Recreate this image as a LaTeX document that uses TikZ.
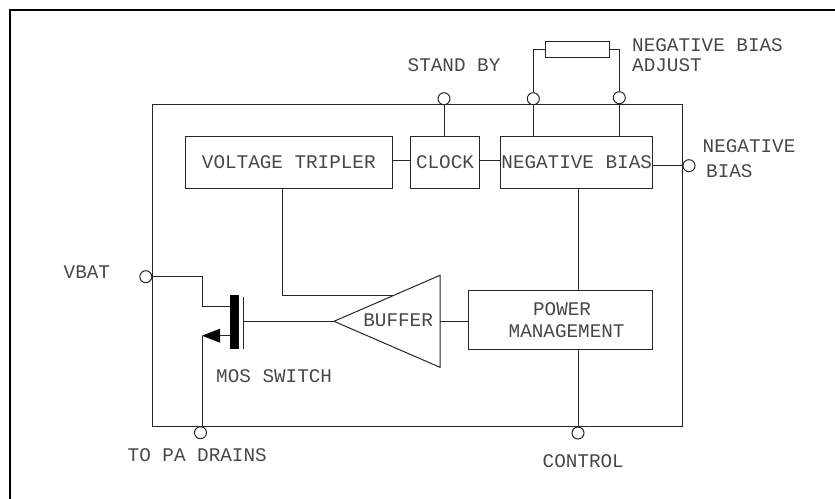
\documentclass[tikz,border=0pt]{standalone}
\usepackage{fontspec}
\newfontfamily\cadfont{Liberation Mono}
\usetikzlibrary{calc}
\tikzset{
  wire/.style={line width=1pt,draw=black!85},
  blockbox/.style={draw=black!85,line width=1pt,inner sep=0pt,align=center,text=black!72,font=\cadfont\fontsize{19.3}{22.3}\selectfont},
  pin/.style={circle,draw=black!85,line width=1pt,minimum size=12pt,inner sep=0pt},
  lbl/.style={anchor=base west,inner sep=0pt,text=black!72,font=\cadfont\fontsize{19.3}{22.3}\selectfont},
}
\begin{document}
\begin{tikzpicture}[x=1pt,y=-1pt]
\useasboundingbox (0,0) rectangle (835,498);
% sheet frame
\coordinate (fa) at (10,498); \coordinate (fb) at (10,10); \coordinate (fc) at (835,10);
\draw[line width=2.7pt,black,line cap=rect] (fa) -- (fb) -- (fc);
% chip outline
\node[blockbox,minimum width=530.5pt,minimum height=322pt] (chip) at (417.5,265.5) {};
% blocks
\node[blockbox,minimum width=207pt,minimum height=52pt] (tripler) at (288.8,162.3) {VOLTAGE TRIPLER};
\node[blockbox,minimum width=68.6pt,minimum height=52pt] (clock) at (445,162.3) {CLOCK};
\node[blockbox,minimum width=152pt,minimum height=52pt] (neg) at (576.7,162.3) {NEGATIVE BIAS};
\node[blockbox,minimum width=184.7pt,minimum height=59.7pt] (pwr) at (560.6,319.9) {\hspace*{3pt}POWER\\\hspace*{12pt}MANAGEMENT};
\node[blockbox,minimum width=64.4pt,minimum height=16.4pt] (res) at (577.5,49.5) {};
% pins
\node[pin] (pinS) at (444,98.7) {};
\node[pin] (pinA) at (533.3,98.7) {};
\node[pin] (pinB) at (619.3,97.7) {};
\node[pin] (pinN) at (689,165.7) {};
\node[pin] (pinV) at (145.8,276.7) {};
\node[pin] (pinD) at (200.5,432.7) {};
\node[pin] (pinC) at (578,433) {};
% junction coordinates
\coordinate (rowA) at (0,160.7);
\coordinate (rowN) at (0,165.7);
\coordinate (tapT) at (282.7,295);
\coordinate (tapB) at (394,295);
\coordinate (tip) at (334,321.3);
\coordinate (bt) at (440,275.3);
\coordinate (bb) at (440,367.3);
\coordinate (v1) at (202,276.7);
\coordinate (v2) at (202,306.7);
\coordinate (src) at (202,335.7);
\coordinate (arrB) at (220,335.7);
\node[fill=black,draw=none,minimum width=9pt,minimum height=54.3pt,inner sep=0pt] (mos) at (234.2,322.2) {};
\coordinate (gt) at (243.7,296.7);
\coordinate (gb) at (243.7,349.3);
\coordinate (gm) at (243.7,321.3);
% buffer
\draw[wire] (tip) -- (bt) -- (bb) -- cycle;
\node[lbl] (bufl) at (363.2,326.7) {BUFFER};
% connectors
\draw[wire] (pinS.south) -- (pinS.south |- clock.north);
\draw[wire] (pinA.south) -- (pinA.south |- neg.north);
\draw[wire] (pinB.south) -- (pinB.south |- neg.north);
\draw[wire] (res.west) -- (pinA.north |- res.west) -- (pinA.north);
\draw[wire] (res.east) -- (pinB.north |- res.east) -- (pinB.north);
\draw[wire] (tripler.east |- rowA) -- (clock.west |- rowA);
\draw[wire] (clock.east |- rowA) -- (neg.west |- rowA);
\draw[wire] (neg.east |- rowN) -- (pinN.west);
\draw[wire] (tripler.south -| tapT) -- (tapT) -- (tapB);
\draw[wire] (neg.south -| pinC.north) -- (pwr.north -| pinC.north);
\draw[wire] (pwr.south -| pinC.north) -- (pinC.north);
\draw[wire] (bt |- tip) -- (pwr.west |- tip);
\draw[wire] (gm) -- (tip);
\draw[wire] (pinV.east) -- (v1) -- (v2) -- (mos.west |- v2);
\draw[wire] (mos.west |- src) -- (arrB);
\draw[wire] (src) -- (src |- pinD.north);
\draw[wire,line width=1.1pt] (gt) -- (gb);
\fill[black] (src) -- (220,328.7) -- (220,342.7) -- cycle;
% labels
\node[lbl] (l1) at (63.5,278) {VBAT};
\node[lbl] (l2) at (216,382.7) {MOS SWITCH};
\node[lbl] (l3) at (127.5,461.7) {TO PA DRAINS};
\node[lbl] (l4) at (542.5,467) {CONTROL};
\node[lbl] (l5) at (407.5,71) {STAND BY};
\node[lbl] (l6) at (632,51) {NEGATIVE BIAS};
\node[lbl] (l7) at (632,71) {ADJUST};
\node[lbl] (l8) at (702.5,152.7) {NEGATIVE};
\node[lbl] (l9) at (706,177.5) {BIAS};
\end{tikzpicture}
\end{document}
